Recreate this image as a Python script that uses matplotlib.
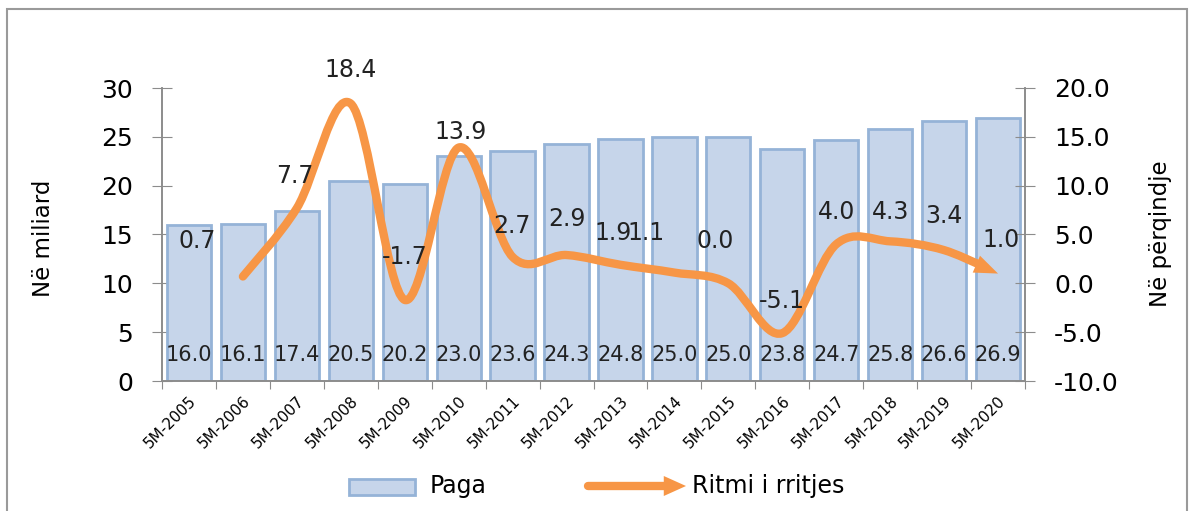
import matplotlib
matplotlib.use("Agg")
import numpy as np
import matplotlib.pyplot as plt
from matplotlib.path import Path
from matplotlib.patches import FancyArrowPatch, Rectangle, ArrowStyle, PathPatch
from matplotlib.lines import Line2D
from matplotlib.bezier import split_de_casteljau

# data
years = ["5M-2005", "5M-2006", "5M-2007", "5M-2008", "5M-2009", "5M-2010", "5M-2011", "5M-2012",
         "5M-2013", "5M-2014", "5M-2015", "5M-2016", "5M-2017", "5M-2018", "5M-2019", "5M-2020"]
paga = [16.0, 16.1, 17.4, 20.5, 20.2, 23.0, 23.6, 24.3, 24.8, 25.0, 25.0, 23.8, 24.7, 25.8, 26.6, 26.9]
ritmi = [0.7, 7.7, 18.4, -1.7, 13.9, 2.7, 2.9, 1.9, 1.1, 0.0, -5.1, 4.0, 4.3, 3.4, 1.0]  # 2006..2020

# label placement for growth values (x in category units, y on right axis)
lab_x = [0.15, 1.97, 2.99, 4.0, 5.03, 5.99, 7.0, 7.86, 8.47, 9.76, 11.0, 12.0, 13.0, 14.0, 15.05]
lab_y = [4.3, 11.0, 21.8, 2.7, 15.5, 5.9, 6.6, 5.2, 5.2, 4.3, -1.8, 7.3, 7.3, 6.9, 4.4]

ORANGE = "#f79646"
GRAY = "#8c8c8c"
BAR_FC = "#c6d5ea"
BAR_EC = "#95b3d7"
plt.rcParams['font.family'] = ['DejaVu Sans']

W, H = 1192, 511
fig = plt.figure(figsize=(W / 100, H / 100), dpi=100)
ax = fig.add_axes([162/W, 1-381/H, (1025-162)/W, (381-88)/H])
ax2 = ax.twinx()

x = np.arange(len(years))
ax.bar(x, paga, width=0.82, color=BAR_FC, edgecolor=BAR_EC, linewidth=2, zorder=2)
for xi, v in zip(x, paga):
    ax.text(xi, 2.7, f"{v:.1f}", ha="center", va="center", fontsize=15, color="#222222", zorder=3)

ax.set_xlim(-0.5, len(years) - 0.5)
ax.set_ylim(0, 30)
ax.set_yticks(range(0, 31, 5))
ax.set_xticks(np.arange(-0.5, len(years), 1.0))
ax.set_xticklabels([])
ax.set_xticks(x, minor=True)
ax.set_xticklabels(years, minor=True, rotation=45, ha="right", rotation_mode="anchor", fontsize=11)
ax.tick_params(axis="x", which="major", direction="out", length=6, color=GRAY)
ax.tick_params(axis="x", which="minor", length=0, pad=9)
ax.tick_params(axis="y", direction="inout", length=14, color=GRAY, labelsize=18, pad=14)

ax2.set_ylim(-10, 20)
ax2.set_yticks(np.arange(-10, 21, 5))
ax2.set_yticklabels([f"{t:.1f}" for t in np.arange(-10, 21, 5)])
ax2.tick_params(axis="y", direction="inout", length=14, color=GRAY, labelsize=18, pad=14)

for a in (ax, ax2):
    a.spines["top"].set_visible(False)
    for s in ("left", "right", "bottom"):
        a.spines[s].set_color(GRAY)
        a.spines[s].set_linewidth(1.2)

# smooth line (Excel-style bezier segments)
lx = np.arange(1, len(years))
pts = np.column_stack([lx, ritmi]).astype(float)
n = len(pts)
segs = []
for i in range(n - 1):
    p0 = pts[i - 1] if i > 0 else pts[i]
    p1 = pts[i]
    p2 = pts[i + 1]
    p3 = pts[i + 2] if i + 2 < n else pts[i + 1]
    segs.append(np.array([p1, p1 + (p2 - p0) / 6.0, p2 - (p3 - p1) / 6.0, p2]))

# cut the last segment so the shaft ends inside the arrow head
last_px = ax2.transData.transform(segs[-1])
tip = last_px[-1]
t_cut = 0.9
for t in np.linspace(0, 1, 400):
    left, _ = split_de_casteljau(last_px, t)
    if np.hypot(*(left[-1] - tip)) < 14:
        t_cut = t
        break
left_px, _ = split_de_casteljau(last_px, t_cut)
left_data = ax2.transData.inverted().transform(np.array(left_px))

verts = [segs[0][0]]
codes = [Path.MOVETO]
for s in segs[:-1]:
    verts += list(s[1:])
    codes += [Path.CURVE4] * 3
verts += list(left_data[1:])
codes += [Path.CURVE4] * 3
line = PathPatch(Path(verts, codes), fill=False, edgecolor=ORANGE, linewidth=6,
                 capstyle="round", joinstyle="round", transform=ax2.transData, zorder=4)
line.set_clip_on(False)
ax2.add_patch(line)

head_style = ArrowStyle("-|>", head_length=1.7, head_width=0.66)
head = FancyArrowPatch(tuple(segs[-1][2]), tuple(segs[-1][3]), arrowstyle=head_style,
                       mutation_scale=10, color=ORANGE, linewidth=0, shrinkA=0, shrinkB=0,
                       transform=ax2.transData, zorder=4)
head.set_clip_on(False)
ax2.add_patch(head)

for tx, ty, v in zip(lab_x, lab_y, ritmi):
    ax2.text(tx, ty, f"{v:.1f}", ha="center", va="center", fontsize=17, color="#222222",
             zorder=5, clip_on=False)

fig.text(43/W, 1-238/H, "Në miliard", rotation=90, ha="center", va="center", fontsize=16.5)
fig.text(1160/W, 1-234/H, "Në përqindje", rotation=90, ha="center", va="center", fontsize=16.5)

# legend drawn by hand
fig.patches.append(Rectangle((349/W, 1-495/H), 66/W, 16/H, transform=fig.transFigure,
                             facecolor=BAR_FC, edgecolor=BAR_EC, linewidth=2))
fig.text(430/W, 1-486/H, "Paga", ha="left", va="center", fontsize=17)
fig.lines.append(Line2D([588/W, 668/W], [1-486/H, 1-486/H], transform=fig.transFigure,
                        color=ORANGE, linewidth=6, solid_capstyle="round"))
fig.patches.append(FancyArrowPatch((660/W, 1-486/H), (686/W, 1-486/H), transform=fig.transFigure,
                                   arrowstyle=ArrowStyle("-|>", head_length=1.6, head_width=0.72),
                                   mutation_scale=10, color=ORANGE, linewidth=0,
                                   shrinkA=0, shrinkB=0))
fig.text(692/W, 1-486/H, "Ritmi i rritjes", ha="left", va="center", fontsize=17)

# outer frame
fig.patches.append(Rectangle((7/W, -0.01), 1180/W, 1-9/H + 0.01, transform=fig.transFigure,
                             fill=False, edgecolor="#9a9a9a", linewidth=1.5))

fig.savefig("out.png", dpi=100)
